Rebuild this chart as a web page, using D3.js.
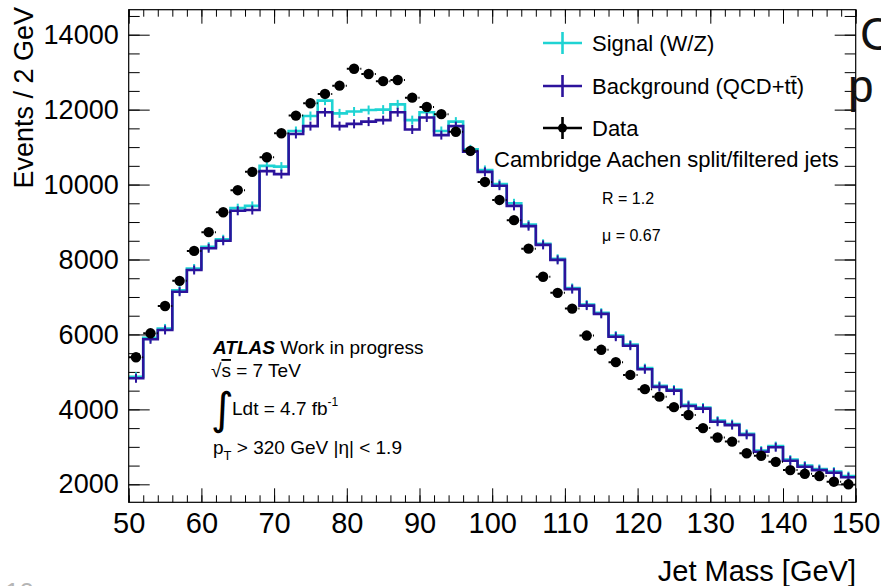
<!DOCTYPE html>
<html>
<head>
<meta charset="utf-8">
<script src="https://cdn.jsdelivr.net/npm/d3@7"></script>
<style>
  html, body { margin: 0; padding: 0; background: #fff; overflow: hidden; }
  svg { display: block; font-family: "Liberation Sans", Arial, Helvetica, sans-serif; }
</style>
</head>
<body>
<svg id="chart" width="881" height="586"></svg>
<script>
// Jet mass distribution, 2 GeV bins from 50 to 150 GeV
const massEdges = d3.range(50, 151, 2);

// Events per bin, Monte Carlo signal (W/Z) histogram
const signalEvents = [
  4870, 5910, 6160, 7180, 7760, 8340, 8540, 9370, 9430, 10500,
  10480, 11430, 11830, 12240, 11900, 11950, 11990, 12000, 12140, 11720,
  11930, 11430, 11680, 10940, 10390, 10015, 9500, 8930, 8420, 8020,
  7240, 6800, 6580, 5970, 5730, 5100, 4630, 4530, 4120, 4050,
  3700, 3610, 3350, 2900, 3020, 2660, 2500, 2410, 2340, 2220
];

// Events per bin, Monte Carlo background (QCD + ttbar) histogram
const backgroundEvents = [
  4830, 5870, 6120, 7140, 7720, 8300, 8500, 9300, 9320, 10360,
  10280, 11350, 11560, 11930, 11560, 11620, 11680, 11720, 11930, 11470,
  11790, 11320, 11560, 10880, 10340, 9970, 9430, 8890, 8390, 7990,
  7210, 6770, 6550, 5940, 5700, 5070, 4600, 4500, 4090, 4020,
  3670, 3580, 3320, 2870, 2990, 2630, 2470, 2380, 2310, 2190
];

// Observed events per bin (at bin centres)
const dataEvents = [
  5390, 6030, 6760, 7430, 8230, 8730, 9260, 9850, 10340, 10730,
  11370, 11840, 12170, 12420, 12640, 13090, 12950, 12760, 12790, 12320,
  12070, 11880, 11410, 10900, 10070, 9590, 9050, 8290, 7540, 7110,
  6690, 5970, 5590, 5260, 4920, 4540, 4340, 4060, 3850, 3500,
  3250, 3140, 2830, 2760, 2600, 2380, 2280, 2220, 2070, 2000
];

const xTickLabels = [50, 60, 70, 80, 90, 100, 110, 120, 130, 140, 150];
const yTickLabels = [2000, 4000, 6000, 8000, 10000, 12000, 14000];

const legendEntries = [
  { label: "Signal (W/Z)", color: "#1fd3d3", kind: "hist" },
  { label: "Background (QCD+tt\u0304)", color: "#2c139c", kind: "hist" },
  { label: "Data", color: "#000", kind: "data" }
];

const svg = d3.select("#chart");
const frame = { left: 128.7, right: 855.7, top: 9.7, bottom: 502.3 };

const x = d3.scaleLinear().domain([50, 150]).range([frame.left, frame.right]);
const y = d3.scaleLinear().domain([1520, 14667]).range([frame.bottom, frame.top]);

const plot = svg.append("g");

// --- axes: major + minor ticks on all four sides, pointing inward ---
const xMinor = d3.range(50, 151, 2);
const yMinor = d3.range(1500, 14667, 500).filter(v => v >= 1520);

function styleAxis(g) {
  g.select(".domain").remove();
  g.selectAll(".tick line").attr("stroke", "#000").attr("stroke-width", 1);
}

plot.append("g").attr("transform", `translate(0,${frame.bottom})`)
  .call(d3.axisBottom(x).tickValues(xMinor).tickSizeInner(-7).tickSizeOuter(0).tickFormat(""))
  .call(styleAxis);
plot.append("g").attr("transform", `translate(0,${frame.bottom})`)
  .call(d3.axisBottom(x).tickValues(xTickLabels).tickSizeInner(-14).tickSizeOuter(0).tickPadding(10).tickFormat(d3.format("d")))
  .call(styleAxis)
  .call(g => g.selectAll("text").attr("font-size", 29).attr("fill", "#000").attr("font-family", null));
plot.append("g").attr("transform", `translate(0,${frame.top})`)
  .call(d3.axisTop(x).tickValues(xMinor).tickSizeInner(-7).tickSizeOuter(0).tickFormat(""))
  .call(styleAxis);
plot.append("g").attr("transform", `translate(0,${frame.top})`)
  .call(d3.axisTop(x).tickValues(xTickLabels).tickSizeInner(-14).tickSizeOuter(0).tickFormat(""))
  .call(styleAxis);

plot.append("g").attr("transform", `translate(${frame.left},0)`)
  .call(d3.axisLeft(y).tickValues(yMinor).tickSizeInner(-11).tickSizeOuter(0).tickFormat(""))
  .call(styleAxis);
plot.append("g").attr("transform", `translate(${frame.left},0)`)
  .call(d3.axisLeft(y).tickValues(yTickLabels).tickSizeInner(-21).tickSizeOuter(0).tickPadding(10).tickFormat(d3.format("d")))
  .call(styleAxis)
  .call(g => g.selectAll("text").attr("font-size", 27).attr("fill", "#000").attr("font-family", null));
plot.append("g").attr("transform", `translate(${frame.right},0)`)
  .call(d3.axisRight(y).tickValues(yMinor).tickSizeInner(-11).tickSizeOuter(0).tickFormat(""))
  .call(styleAxis);
plot.append("g").attr("transform", `translate(${frame.right},0)`)
  .call(d3.axisRight(y).tickValues(yTickLabels).tickSizeInner(-21).tickSizeOuter(0).tickFormat(""))
  .call(styleAxis);

// --- histograms drawn as step outlines with small error ticks ---
function histogram(values, color) {
  const pts = values.map((v, i) => [massEdges[i], v]);
  pts.push([massEdges[massEdges.length - 1], values[values.length - 1]]);
  const line = d3.line().x(d => x(d[0])).y(d => y(d[1])).curve(d3.curveStepAfter);
  const g = plot.append("g");
  g.append("path").datum(pts).attr("d", line)
    .attr("fill", "none").attr("stroke", color).attr("stroke-width", 2.6);
  g.selectAll("line").data(values).join("line")
    .attr("x1", (d, i) => x(massEdges[i] + 1)).attr("x2", (d, i) => x(massEdges[i] + 1))
    .attr("y1", d => y(d) - 4.5).attr("y2", d => y(d) + 4.5)
    .attr("stroke", color).attr("stroke-width", 2);
}
histogram(signalEvents, legendEntries[0].color);
histogram(backgroundEvents, legendEntries[1].color);

// --- data points with horizontal bin-width bars ---
const dataG = plot.append("g");
dataG.selectAll("line").data(dataEvents).join("line")
  .attr("x1", (d, i) => x(massEdges[i])).attr("x2", (d, i) => x(massEdges[i + 1]))
  .attr("y1", d => y(d)).attr("y2", d => y(d))
  .attr("stroke", "#000").attr("stroke-width", 2).attr("stroke-dasharray", "2.5,2");
dataG.selectAll("circle").data(dataEvents).join("circle")
  .attr("cx", (d, i) => x(massEdges[i] + 1)).attr("cy", d => y(d)).attr("r", 5.2)
  .attr("fill", "#000");

// --- frame ---
plot.append("rect")
  .attr("x", frame.left).attr("y", frame.top)
  .attr("width", frame.right - frame.left).attr("height", frame.bottom - frame.top)
  .attr("fill", "none").attr("stroke", "#000").attr("stroke-width", 1.2);

// --- axis titles ---
svg.append("text").attr("transform", "translate(33,7) rotate(-90)")
  .attr("text-anchor", "end").attr("font-size", 27).text("Events / 2 GeV");
svg.append("text").attr("x", 856).attr("y", 581)
  .attr("text-anchor", "end").attr("font-size", 29).text("Jet Mass [GeV]");

// --- legend ---
const legend = svg.append("g");
const legendY = [43, 86, 128];
legendEntries.forEach((e, i) => {
  const g = legend.append("g").attr("transform", `translate(0,${legendY[i]})`);
  g.append("line").attr("x1", 543).attr("x2", 582).attr("y1", 0).attr("y2", 0)
    .attr("stroke", e.color).attr("stroke-width", 2.6);
  g.append("line").attr("x1", 562.5).attr("x2", 562.5).attr("y1", -11).attr("y2", 11)
    .attr("stroke", e.color).attr("stroke-width", 2.6);
  if (e.kind === "data") g.append("circle").attr("cx", 562.5).attr("cy", 0).attr("r", 4.5).attr("fill", "#000");
  g.append("text").attr("x", 592).attr("y", 8).attr("font-size", 22).text(e.label);
});

// --- annotations ---
svg.append("text").attr("x", 494).attr("y", 167).attr("font-size", 22)
  .text("Cambridge Aachen split/filtered jets");
svg.append("text").attr("x", 602).attr("y", 204).attr("font-size", 16).text("R = 1.2");
svg.append("text").attr("x", 602).attr("y", 241).attr("font-size", 16).text("\u03bc = 0.67");

const atlas = svg.append("text").attr("x", 213).attr("y", 354).attr("font-size", 19);
atlas.append("tspan").attr("font-weight", "bold").attr("font-style", "italic").text("ATLAS");
atlas.append("tspan").text(" Work in progress");

const sqrtS = svg.append("text").attr("x", 211).attr("y", 377).attr("font-size", 19);
sqrtS.append("tspan").text("\u221a");
sqrtS.append("tspan").attr("text-decoration", "overline").text("s");
sqrtS.append("tspan").text(" = 7 TeV");

svg.append("text").attr("x", 211).attr("y", 424).attr("font-size", 44).attr("font-family", "DejaVu Sans")
  .text("\u222b");
const lumi = svg.append("text").attr("x", 232).attr("y", 415).attr("font-size", 19);
lumi.append("tspan").text("Ldt = 4.7 fb");
lumi.append("tspan").attr("font-size", 12).attr("dy", -9).text("-1");

const cut = svg.append("text").attr("x", 213).attr("y", 454).attr("font-size", 19);
cut.append("tspan").text("p");
cut.append("tspan").attr("font-size", 13).attr("dy", 6).text("T");
cut.append("tspan").attr("dy", -6).text(" > 320 GeV |\u03b7| < 1.9");

// --- surrounding page fragments ---
svg.append("text").attr("x", 860).attr("y", 50).attr("font-size", 46).attr("fill", "#111").text("C");
svg.append("text").attr("x", 848).attr("y", 102).attr("font-size", 46).attr("fill", "#111").text("p");
svg.append("text").attr("x", 5).attr("y", 601).attr("font-size", 26).attr("fill", "#b5b5b5").text("10");
</script>
</body>
</html>
